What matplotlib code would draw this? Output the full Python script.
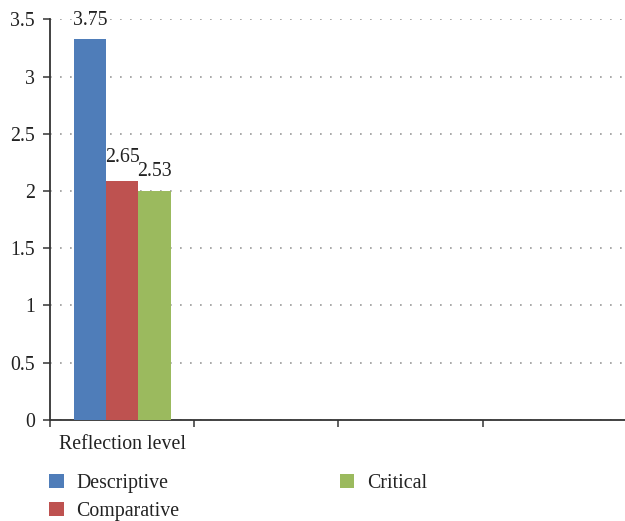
import numpy as np
import matplotlib
matplotlib.use("Agg")
import matplotlib.pyplot as plt

categories = ["Reflection level", "", "", ""]
series = ["Descriptive", "Comparative", "Critical"]
descriptive = [3.33, np.nan, np.nan, np.nan]
comparative = [2.09, np.nan, np.nan, np.nan]
critical = [2.0, np.nan, np.nan, np.nan]
bar_labels = [["3.75"], ["2.65"], ["2.53"]]
colors = ["#4F7DB9", "#BE5250", "#9BBA5E"]

plt.rcParams['font.family'] = ['Liberation Serif', 'DejaVu Serif']
FS = 14.3
fig = plt.figure(figsize=(6.25, 5.21), dpi=100)
ax = fig.add_axes([0.08, 0.194, 0.923, 0.769])

x = np.arange(len(categories))
w = 0.224
vals = [descriptive, comparative, critical]
pads = [6, 10, 7]
for i, (name, v, c) in enumerate(zip(series, vals, colors)):
    bars = ax.bar(x + (i - 1) * w, v, w, color=c, label=name, zorder=3)
    ax.bar_label(bars, labels=bar_labels[i] + [""] * (len(categories) - 1),
                 padding=pads[i], fontsize=FS, color="#222222")

ax.set_xlim(-0.5, len(categories) - 0.5)
ax.set_ylim(0, 3.5)
ax.set_yticks(np.arange(0, 3.51, 0.5))
ax.set_yticklabels(["0", "0.5", "1", "1.5", "2", "2.5", "3", "3.5"])
ax.set_xticks(x)
ax.set_xticklabels(categories)
ax.set_xticks(np.arange(-0.5, len(categories) - 0.4, 1), minor=True)
ax.tick_params(axis='x', which='major', length=0, pad=11, labelsize=FS, colors="#222222")
ax.tick_params(axis='x', which='minor', length=5, width=1.2, color="#444444", direction='out')
ax.tick_params(axis='y', length=5, width=1.2, color="#444444", labelsize=FS,
               labelcolor="#222222", pad=6)
ax.yaxis.grid(True, linestyle=(0, (1, 5)), color="#999999", linewidth=1.2, zorder=0)
for s in ["top", "right"]:
    ax.spines[s].set_visible(False)
for s in ["left", "bottom"]:
    ax.spines[s].set_color("#333333")
    ax.spines[s].set_linewidth(1.3)

fig.legend(loc='upper left', bbox_to_anchor=(0.078, 0.091), ncol=2, frameon=False,
           fontsize=FS, handlelength=0.75, handleheight=0.75, handletextpad=0.65,
           columnspacing=8.05, labelspacing=0.45, borderaxespad=0, borderpad=0,
           labelcolor="#222222")

fig.savefig("out.png", dpi=100)
